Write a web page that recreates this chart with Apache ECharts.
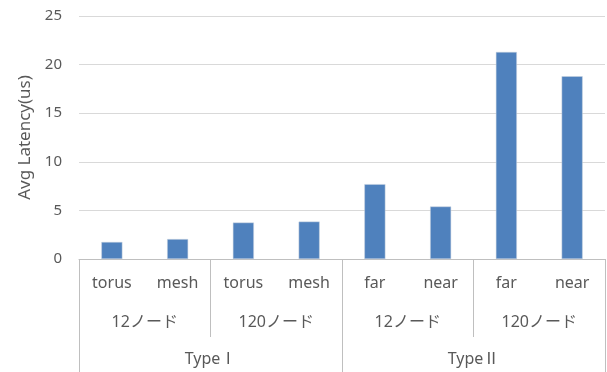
<!DOCTYPE html>
<html>
<head>
<meta charset="utf-8">
<script src="https://cdn.jsdelivr.net/npm/echarts@6/dist/echarts.min.js"></script>
<style>
  html, body { margin: 0; padding: 0; background: #ffffff; }
  #chart { width: 607px; height: 372px; }
</style>
</head>
<body>
<div id="chart"></div>
<script>
// Leaf categories (topology / distance), node-count groups, and type groups
const leafLabels = ['torus', 'mesh', 'torus', 'mesh', 'far', 'near', 'far', 'near'];
const nodeGroups = ['12ノード', '120ノード', '12ノード', '120ノード'];
const typeGroups = ['TypeⅠ', 'TypeⅡ'];
const latency = [1.75, 2.05, 3.75, 3.85, 7.7, 5.4, 21.3, 18.8];
const yTicks = [0, 25, 5];

const FONT = '"Noto Sans", "Noto Sans CJK JP", sans-serif';
const TEXT = '#595959';
const LINE = '#bfbfbf';

const chart = echarts.init(document.getElementById('chart'), null, { renderer: 'canvas' });

chart.setOption({
  animation: false,
  backgroundColor: '#ffffff',
  grid: { left: 79, right: 2, top: 16, bottom: 113, containLabel: false },
  xAxis: [
    {
      type: 'category',
      data: leafLabels,
      position: 'bottom',
      axisLine: { show: true, lineStyle: { color: LINE, width: 1 } },
      axisTick: { show: false },
      axisLabel: { interval: 0, margin: 16, fontSize: 16, color: TEXT, fontFamily: FONT }
    },
    {
      type: 'category',
      data: nodeGroups,
      position: 'bottom',
      axisLine: { show: false },
      axisTick: { show: true, length: 78, lineStyle: { color: LINE, width: 1 } },
      axisLabel: { interval: 0, margin: 55, fontSize: 16, color: TEXT, fontFamily: FONT }
    },
    {
      type: 'category',
      data: typeGroups,
      position: 'bottom',
      axisLine: { show: false },
      axisTick: { show: true, length: 113, lineStyle: { color: LINE, width: 1 } },
      axisLabel: { interval: 0, margin: 92, fontSize: 16, color: TEXT, fontFamily: FONT }
    }
  ],
  yAxis: {
    type: 'value',
    min: yTicks[0],
    max: yTicks[1],
    interval: yTicks[2],
    name: 'Avg Latency(us)',
    nameLocation: 'middle',
    nameGap: 45,
    nameRotate: 90,
    nameTextStyle: { fontSize: 17, color: TEXT, fontFamily: FONT },
    axisLine: { show: false },
    axisTick: { show: false },
    axisLabel: { margin: 17, fontSize: 15, color: TEXT, fontFamily: FONT },
    splitLine: { show: true, lineStyle: { color: '#d9d9d9', width: 1 } }
  },
  series: [
    {
      type: 'bar',
      xAxisIndex: 0,
      data: latency,
      barWidth: 21,
      itemStyle: { color: '#4f81bd', borderColor: '#c9d3de', borderWidth: 0.5 }
    }
  ]
});
</script>
</body>
</html>
